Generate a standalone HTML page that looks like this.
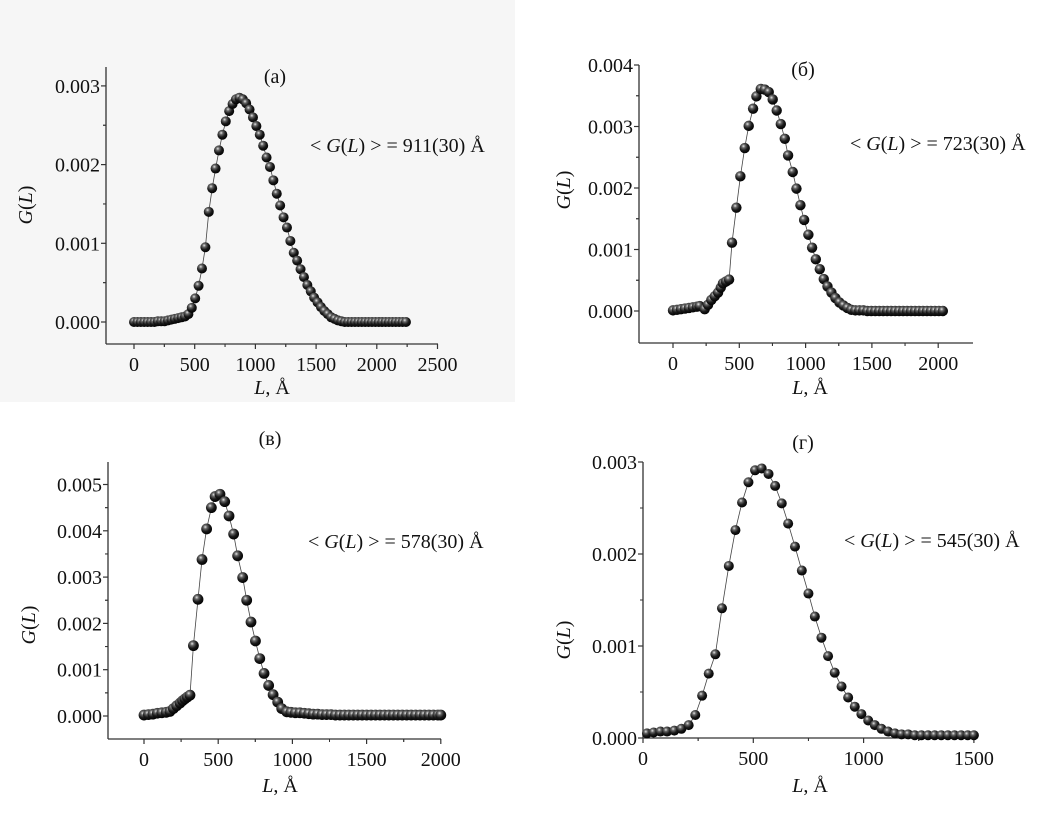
<!DOCTYPE html>
<html><head><meta charset="utf-8"><style>
html,body{margin:0;padding:0;background:#fff;}
svg{display:block;font-family:"Liberation Serif","DejaVu Serif",serif;}
</style></head><body>
<svg id="fig" width="1062" height="817" viewBox="0 0 1062 817" xmlns="http://www.w3.org/2000/svg">
<defs>
<radialGradient id="ball" cx="0.38" cy="0.32" r="0.7">
<stop offset="0" stop-color="#e8e8e8"/><stop offset="0.25" stop-color="#666"/><stop offset="0.6" stop-color="#1a1a1a"/><stop offset="1" stop-color="#000"/>
</radialGradient>
</defs>
<rect x="0" y="0" width="515" height="402" fill="#f6f6f6"/>
</svg>
<script>
// Panel (а)
const aL=[0,28,56,84,112,140,168,196,224,252,280,308,336,364,392,420,448,476,504,532,560,588,616,644,672,700,728,756,784,812,840,868,896,924,952,980,1008,1036,1064,1092,1120,1148,1176,1204,1232,1260,1288,1316,1344,1372,1400,1428,1456,1484,1512,1540,1568,1596,1624,1652,1680,1708,1736,1764,1792,1820,1848,1876,1904,1932,1960,1988,2016,2044,2072,2100,2128,2156,2184,2212,2240];
const aG=[0,0,0,0,0,0,0,0.00001,0.00001,0.00001,0.00002,0.00003,0.00004,0.00005,0.00006,0.00007,0.0001,0.00018,0.0003,0.00046,0.00068,0.00095,0.0014,0.0017,0.00195,0.00218,0.00238,0.00255,0.00268,0.00277,0.00283,0.00285,0.00283,0.00278,0.0027,0.0026,0.00249,0.00238,0.00224,0.00209,0.00197,0.0018,0.00163,0.00148,0.00133,0.0012,0.00103,0.00088,0.00078,0.00067,0.00057,0.00047,0.00039,0.00031,0.00025,0.00019,0.00014,0.0001,0.00006,0.00004,0.00002,0.00001,0,0,0,0,0,0,0,0,0,0,0,0,0,0,0,0,0,0,0];
// Panel (б)
const bL=[0,30,60,90,120,150,180,201,239,264,289,315,340,360,377,400,423,445,478,508,541,571,604,629,662,692,722,752,782,813,843,868,903,931,961,989,1021,1049,1077,1107,1137,1165,1195,1225,1255,1285,1315,1345,1375,1405,1435,1465,1495,1525,1555,1585,1615,1645,1675,1705,1735,1765,1795,1825,1855,1885,1915,1945,1975,2005,2035];
const bG=[0.00001,0.00002,0.00003,0.00004,0.00005,0.00006,0.00007,0.00008,0.00003,0.0001,0.00018,0.00024,0.0003,0.00038,0.00045,0.00048,0.00051,0.00111,0.00168,0.00219,0.00265,0.00301,0.00329,0.00349,0.00361,0.0036,0.00356,0.00344,0.00326,0.00304,0.0028,0.00253,0.00226,0.00199,0.00172,0.00148,0.00124,0.00103,0.00084,0.00068,0.00052,0.0004,0.0003,0.00021,0.00014,0.00009,0.00005,0.00002,0.00001,0.00001,0.00001,0,0,0,0,0,0,0,0,0,0,0,0,0,0,0,0,0,0,0,0];
// Panel (в)
const cL=[0,30,60,90,120,150,175,198,220,243,260,276,292,310,333,364,391,422,454,479,512,544,573,604,631,665,692,721,751,780,809,840,870,901,928,962,990,1020,1050,1080,1110,1140,1170,1200,1230,1260,1290,1320,1350,1380,1410,1440,1470,1500,1530,1560,1590,1620,1650,1680,1710,1740,1770,1800,1830,1860,1890,1920,1950,1980,2000];
const cG=[0.00002,0.00003,0.00004,0.00006,0.00007,0.00008,0.0001,0.00016,0.00022,0.00028,0.00033,0.00037,0.00041,0.00045,0.00152,0.00252,0.00338,0.00404,0.0045,0.00474,0.00479,0.00463,0.00432,0.00393,0.00346,0.00299,0.0025,0.00203,0.00162,0.00124,0.00092,0.00066,0.00046,0.0003,0.00016,0.00009,0.00008,0.00007,0.00007,0.00006,0.00005,0.00004,0.00004,0.00003,0.00003,0.00003,0.00002,0.00002,0.00002,0.00002,0.00002,0.00002,0.00002,0.00002,0.00002,0.00002,0.00002,0.00002,0.00002,0.00002,0.00002,0.00002,0.00002,0.00002,0.00002,0.00002,0.00002,0.00002,0.00002,0.00002,0.00002];
// Panel (г)
const dL=[18,48,79,109,142,174,207,237,268,298,328,358,389,419,449,478,508,538,569,599,629,658,689,720,750,779,809,839,869,900,930,960,990,1021,1051,1081,1111,1142,1172,1202,1232,1262,1292,1322,1352,1382,1412,1442,1472,1500];
const dG=[0.00005,0.00006,0.00007,0.00007,0.00008,0.0001,0.00014,0.00025,0.00046,0.0007,0.00091,0.00141,0.00187,0.00226,0.00256,0.00278,0.00291,0.00293,0.00287,0.00274,0.00255,0.00233,0.00208,0.00182,0.00157,0.00132,0.00109,0.00089,0.00071,0.00056,0.00044,0.00034,0.00026,0.00019,0.00014,0.0001,0.00007,0.00005,0.00004,0.00004,0.00003,0.00003,0.00003,0.00003,0.00003,0.00003,0.00003,0.00003,0.00003,0.00003];
const aXTicks=[0,500,1000,1500,2000,2500], aYTicks=["0.000","0.001","0.002","0.003"];
const bXTicks=[0,500,1000,1500,2000], bYTicks=["0.000","0.001","0.002","0.003","0.004"];
const cXTicks=[0,500,1000,1500,2000], cYTicks=["0.000","0.001","0.002","0.003","0.004","0.005"];
const dXTicks=[0,500,1000,1500], dYTicks=["0.000","0.001","0.002","0.003"];
const annotations=["911(30)","723(30)","578(30)","545(30)"];

const NS="http://www.w3.org/2000/svg";
const svg=document.getElementById('fig');
function mk(tag,attrs,parent){const e=document.createElementNS(NS,tag);for(const k in attrs)e.setAttribute(k,attrs[k]);(parent||svg).appendChild(e);return e;}
const FS=20;
const panels=[
 {id:'a',title:'(а)',tx:275,ty:83,L:aL,G:aG,xt:aXTicks,yt:aYTicks,ax:106,x0:134,xs:60.7/500,xr:438,y0:322,ys:78.7/0.001,top:67,bot:344,ylx:32,yly:205,xlx:272,xly:394,anx:310,any:152,r:5},
 {id:'b',title:'(б)',tx:803,ty:76,L:bL,G:bG,xt:bXTicks,yt:bYTicks,ax:639,x0:673,xs:66.3/500,xr:973,y0:311,ys:61.5/0.001,top:65,bot:343,ylx:570,yly:190,xlx:810,xly:394,anx:850,any:150,r:5.2},
 {id:'c',title:'(в)',tx:270,ty:445,L:cL,G:cG,xt:cXTicks,yt:cYTicks,ax:108,x0:144,xs:74.2/500,xr:441,y0:716,ys:46.3/0.001,top:462,bot:739,ylx:35,yly:625,xlx:280,xly:792,anx:308,any:548,r:5.4},
 {id:'d',title:'(г)',tx:803,ty:449,L:dL,G:dG,xt:dXTicks,yt:dYTicks,ax:643,x0:643,xs:110.3/500,xr:974,y0:738,ys:92/0.001,top:462,bot:738,ylx:570,yly:640,xlx:810,xly:792,anx:844,any:547,r:5}
];

panels.forEach((p,pi)=>{
 const g=mk('g',{});
 
 
 const X=v=>p.x0+v*p.xs, Y=v=>p.y0-v*p.ys;
 const t=mk('text',{x:p.tx,y:p.ty,'font-size':FS,'text-anchor':'middle',fill:'#111'},g);
 t.textContent=p.title;
 
 
 const ya=mk('line',{x1:p.ax,y1:p.top,x2:p.ax,y2:p.bot,stroke:'#333','stroke-width':1.3},g);
 
 
 const xa=mk('line',{x1:p.ax,y1:p.bot,x2:p.xr,y2:p.bot,stroke:'#333','stroke-width':1.3},g);
 
 
 p.xt.forEach((v,i)=>{
  const x=X(v);
  mk('line',{x1:x,y1:p.bot,x2:x,y2:p.bot+5,stroke:'#333','stroke-width':1.2},g);
  if(i<p.xt.length-1){const xm=X(v+250);if(xm<=p.xr)mk('line',{x1:xm,y1:p.bot,x2:xm,y2:p.bot+3,stroke:'#333'},g);}
  if(p.id!=='d'||v>0){const xm=X(v-250);if(xm>=p.ax+2)mk('line',{x1:xm,y1:p.bot,x2:xm,y2:p.bot+3,stroke:'#333'},g);}
  const tl=mk('text',{x:x,y:p.bot+27,'font-size':FS,'text-anchor':'middle',fill:'#111'},g);
  tl.textContent=v;
  
  
 });
 p.yt.forEach((s,i)=>{
  const v=parseFloat(s), y=Y(v);
  mk('line',{x1:p.ax-5,y1:y,x2:p.ax,y2:y,stroke:'#333','stroke-width':1.2},g);
  [v+0.0005,v-0.0005].forEach(m=>{const ym=Y(m);if(ym>=p.top&&ym<=p.bot-2)mk('line',{x1:p.ax-3,y1:ym,x2:p.ax,y2:ym,stroke:'#333'},g);});
  const tl=mk('text',{x:p.ax-6,y:y+7,'font-size':FS,'text-anchor':'end',fill:'#111'},g);
  tl.textContent=s;
  
  
 });
 const yl=mk('text',{x:p.ylx,y:p.yly,'font-size':FS,'text-anchor':'middle',fill:'#111',transform:`rotate(-90 ${p.ylx} ${p.yly})`},g);
 yl.innerHTML='<tspan font-style="italic">G</tspan>(<tspan font-style="italic">L</tspan>)';
 
 
 const xl=mk('text',{x:p.xlx,y:p.xly,'font-size':FS,'text-anchor':'middle',fill:'#111'},g);
 xl.innerHTML='<tspan font-style="italic">L</tspan>, Å';
 
 
 const an=mk('text',{x:p.anx,y:p.any,'font-size':FS,fill:'#111'},g);
 an.innerHTML='&lt; <tspan font-style="italic">G</tspan>(<tspan font-style="italic">L</tspan>) &gt; = '+annotations[pi]+' Å';
 
 
 const d=p.L.map((v,i)=>(i?'L':'M')+X(v).toFixed(1)+','+Y(p.G[i]).toFixed(1)).join(' ');
 const ln=mk('path',{d:d,fill:'none',stroke:'#444','stroke-width':0.8},g);
 
 
 p.L.forEach((v,i)=>{
  const c=mk('circle',{cx:X(v),cy:Y(p.G[i]),r:p.r,fill:'url(#ball)'},g);
  
  
 });
});
</script>
</body></html>
